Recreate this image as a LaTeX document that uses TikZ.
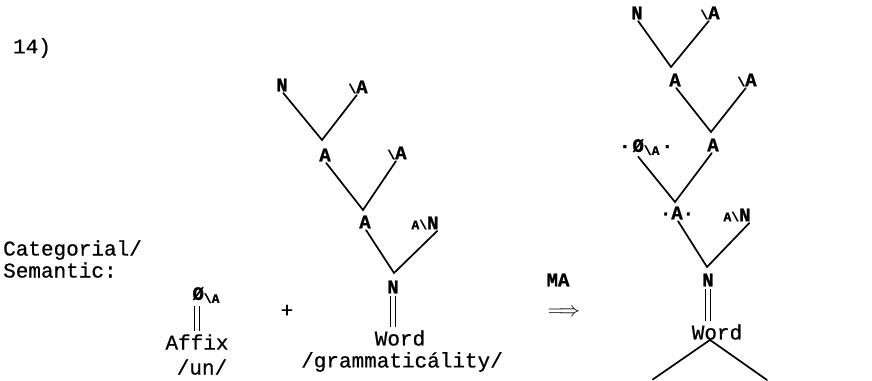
\documentclass[tikz,border=0pt]{standalone}
\usepackage{fontspec}
\setmainfont{Liberation Mono}[FakeBold=0.6]
\newfontfamily\catfont{Liberation Mono Bold}[FakeBold=1.2]
\usetikzlibrary{arrows.meta}

% small signs inside the category labels
\newcommand{\smsign}[1]{{\fontsize{13}{13}\selectfont #1}}
\newcommand{\slashA}{\smsign{\textbackslash}A}
\newcommand{\AslashN}{\smsign{A\textbackslash}N}
\newcommand{\nullA}{Ø\raisebox{-3pt}{\smsign{\textbackslash A}}}

\begin{document}
\begin{tikzpicture}[
        x = 1pt,
        y = -1pt,
        txt/.style = {
                inner sep=0pt,
                font=\fontsize{21}{22}\selectfont,
            },
        cat/.style = {
                inner sep=0pt,
                font=\fontsize{19}{19}\catfont,
            },
        branch/.style = {
                line width=1.7pt,
                line cap=round,
            },
        eqbar/.style = {
                double,
                double distance=4pt,
                line width=1pt,
                shorten <=3pt,
                shorten >=3pt,
            },
    ]
    \useasboundingbox (0,0) rectangle (872,380);

    % labels on the left
    \node[txt] (num) at (32,48) {14)};
    \node[txt, anchor=west, align=left] (catsem) at (3,259) {Categorial/\\Semantic:};

    % the affix
    \node[cat] (affz) at (206,295) {\nullA};
    \node[txt] (affix) at (197,342) {Affix};
    \node[txt] (affun) at (202,367) {/un/};
    \draw[eqbar] (affz.south -| affix) -- (affix.north);

    \node[txt] (plus) at (287,311) {+};

    % the word
    \node[cat] (lN1) at (282,85) {N};
    \node[cat] (lA1) at (358,87) {\slashA};
    \node[cat] (lA2) at (325,155) {A};
    \node[cat] (lA3) at (397,153) {\slashA};
    \node[cat] (lA4) at (365,222) {A};
    \node[cat] (lAN) at (425,223) {\AslashN};
    \node[cat] (lN2) at (393,287) {N};
    \node[txt] (lword) at (400,338) {Word};
    \node[txt] (lgram) at (402,362) {/grammaticálity/};
    \coordinate (lANfoot) at (lAN.south east);
    \coordinate (lv1) at (322,140);
    \coordinate (lv2) at (363,210);
    \coordinate (lv3) at (394,273);
    \draw[eqbar] (lN2.south) -- (lword.north -| lN2);

    % morphological analysis
    \node[cat] (ma) at (558,280) {MA};
    \node[txt] (maarrow) at (564,313) {$\Longrightarrow$};

    % the result
    \node[cat] (rN1) at (637,13) {N};
    \node[cat] (rA1) at (710,13) {\slashA};
    \node[cat] (rA2) at (675,80) {A};
    \node[cat] (rA3) at (747,80) {\slashA};
    \node[cat] (rZ) at (646,147) {·\kern2pt\nullA\kern2pt·};
    \node[cat] (rA4) at (713,145) {A};
    \node[cat] (rA5) at (677,213) {·A·};
    \node[cat] (rAN) at (737,215) {\AslashN};
    \node[cat] (rN2) at (708,280) {N};
    \node[txt] (rword) at (717,332) {Word};
    \coordinate (rZfoot) at ([xshift=-9pt]rZ.south);
    \coordinate (rANfoot) at (rAN.south east);
    \coordinate (rv1) at (671,67);
    \coordinate (rv2) at (711,132);
    \coordinate (rv3) at (675,202);
    \coordinate (rv4) at (707,267);
    \coordinate (rb1) at (652,380);
    \coordinate (rb2) at (767,380);
    \draw[eqbar] (rN2.south) -- (rword.north -| rN2);

    \foreach \a/\v/\b in {
            lN1.south/lv1/lA1.south,
            lA2.south/lv2/lA3.south,
            lA4.south/lv3/lANfoot,
            rN1.south/rv1/rA1.south,
            rA2.south/rv2/rA3.south,
            rZfoot/rv3/rA4.south,
            rA5.south/rv4/rANfoot}
    \draw[branch, shorten <=2pt, shorten >=2pt] (\a) -- (\v) -- (\b);

    \draw[branch, shorten <=1pt] (rb1) -- ([xshift=-7pt]rword.south) -- (rb2);
\end{tikzpicture}
\end{document}
